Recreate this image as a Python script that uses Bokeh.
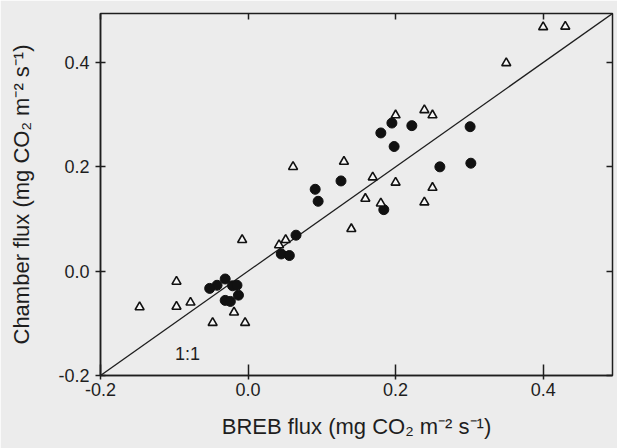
from bokeh.plotting import figure
from bokeh.models import LinearAxis, Range1d, Label, PrintfTickFormatter, CustomLabelingPolicy
from bokeh.embed import file_html
from bokeh.resources import INLINE

# Open triangles (BREB flux, Chamber flux)
tri_x = [0.400, 0.430, 0.350, 0.200, 0.239, 0.250, 0.130, 0.061, 0.169, 0.200,
         0.250, 0.159, 0.180, 0.239, 0.140, -0.008, 0.051, 0.042, -0.097, -0.147,
         -0.097, -0.078, -0.019, -0.048, -0.004]
tri_y = [0.468, 0.469, 0.399, 0.299, 0.309, 0.299, 0.210, 0.200, 0.180, 0.170,
         0.160, 0.139, 0.130, 0.132, 0.081, 0.060, 0.060, 0.050, -0.020, -0.069,
         -0.068, -0.060, -0.079, -0.099, -0.099]

# Filled circles
dot_x = [0.180, 0.195, 0.222, 0.198, 0.301, 0.302, 0.260, 0.126, 0.091, 0.095,
         0.184, 0.065, 0.045, 0.056, -0.031, -0.042, -0.052, -0.021, -0.015, -0.013,
         -0.031, -0.024]
dot_y = [0.265, 0.284, 0.279, 0.239, 0.277, 0.207, 0.200, 0.173, 0.157, 0.134,
         0.118, 0.069, 0.033, 0.030, -0.015, -0.027, -0.033, -0.028, -0.027, -0.046,
         -0.056, -0.058]

one_to_one = [-0.2, 0.5]
ticks = [-0.2, 0.0, 0.2, 0.4]

FONT = "Liberation Sans"
BG = "#ececec"
INK = "#1e1e1e"

p = figure(width=617, height=448, output_backend="svg", toolbar_location=None,
           x_range=Range1d(-0.2, 0.494), y_range=Range1d(-0.2, 0.494),
           min_border_left=100, min_border_right=0, min_border_top=13, min_border_bottom=73,
           background_fill_color=BG, border_fill_color=BG)
p.grid.visible = False
p.outline_line_color = INK
p.outline_line_width = 1.5

p.xaxis.ticker = ticks
p.yaxis.ticker = ticks
for ax in (p.xaxis[0], p.yaxis[0]):
    ax.formatter = PrintfTickFormatter(format="%.1f")
    ax.axis_line_width = 1.5
    ax.axis_line_color = INK
    ax.major_tick_line_width = 1.5
    ax.major_tick_line_color = INK
    ax.minor_tick_line_color = None
    ax.major_label_text_font = FONT
    ax.major_label_text_font_size = "18px"
    ax.major_label_text_color = INK
    ax.axis_label_text_font = FONT
    ax.axis_label_text_font_style = "normal"
    ax.axis_label_text_color = INK

p.xaxis.axis_label_text_font_size = "22px"
p.yaxis.axis_label_text_font_size = "22px"
p.xaxis.major_tick_in = 11
p.xaxis.major_tick_out = 4
p.xaxis.major_label_standoff = 3
p.yaxis.major_tick_in = 5
p.yaxis.major_tick_out = 5
p.yaxis.major_label_standoff = 6
p.xaxis.axis_label = "BREB flux (mg CO\u2082 m\u207b\u00b2 s\u207b\u00b9)"
p.yaxis.axis_label = "Chamber flux (mg CO\u2082 m\u207b\u00b2 s\u207b\u00b9)"
p.xaxis.axis_label_standoff = 15
p.yaxis.axis_label_standoff = 21

no_labels = CustomLabelingPolicy(code="""
    for (const i of indices) { indices.unset(i) }
    return indices
""")
for loc in ("above", "right"):
    ax = LinearAxis(ticker=ticks, major_tick_in=6, major_tick_out=0,
                    major_label_text_font_size="1px", major_label_standoff=0,
                    major_label_policy=no_labels,
                    axis_line_color=None, major_tick_line_width=1.5,
                    major_tick_line_color=INK, minor_tick_line_color=None)
    p.add_layout(ax, loc)

p.line(one_to_one, one_to_one, line_color=INK, line_width=1.3)
p.scatter(dot_x, dot_y, marker="circle", size=10, fill_color="#111111", line_color="#111111")
p.scatter(tri_x, tri_y, marker="triangle", size=9, fill_color="#f7f7f7",
          line_color="#111111", line_width=1.6)

p.add_layout(Label(x=-0.082, y=-0.158, text="1:1", text_font=FONT, text_font_size="18px",
                   text_color=INK, text_align="center", text_baseline="middle"))

open("out.html", "w").write(file_html(p, INLINE))
